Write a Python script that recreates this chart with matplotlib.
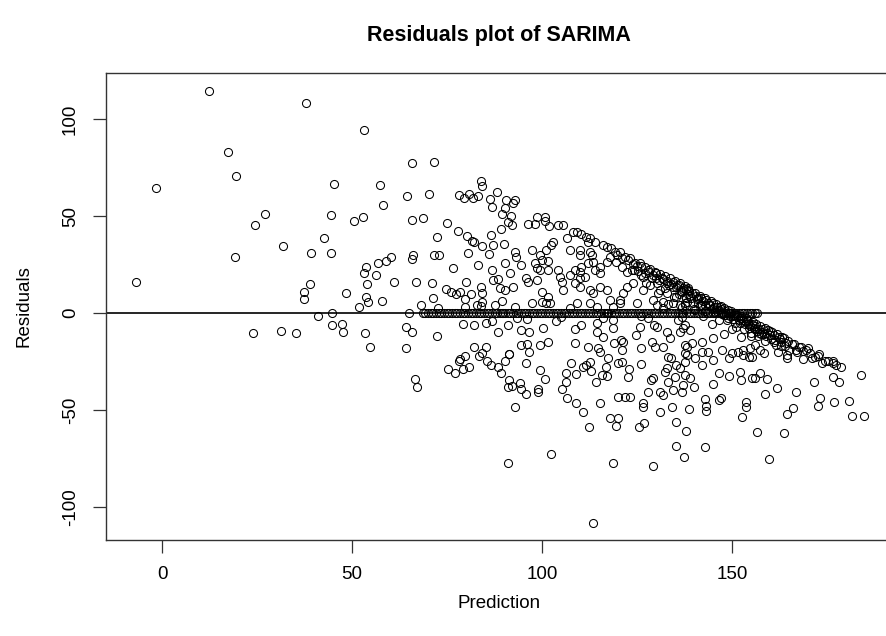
import matplotlib
matplotlib.use('Agg')
import matplotlib.pyplot as plt

plt.rcParams['font.family'] = ['Liberation Sans', 'DejaVu Sans']

# scattered residuals (prediction, residual)
pred = [12.5, 37.8, 17.5, 19.5, -1.7, 45.3, 27.0, 24.4, 44.5, 42.7, 31.9, 39.2, 44.5, 19.1, -6.9, 38.9,
        37.5, 37.5, 41.1, 44.8, 24.0, 31.2, 35.3, 44.8,
        53.2, 65.8, 71.7, 57.5, 64.5, 70.3, 58.2, 83.9, 84.2, 78.2, 80.7, 79.4, 83.2, 81.9, 86.2, 88.1,
        86.8, 90.5, 50.6, 52.9, 65.8, 68.8, 75.0, 72.3, 77.9, 80.3, 81.5, 82.2, 84.2, 86.5, 87.2, 89.3,
        89.5, 90.0, 90.3, 80.5, 86.1, 90.2, 53.6, 53.2, 56.9, 58.9, 60.4, 66.1, 65.7, 71.7, 72.8, 56.3,
        54.0, 61.1, 66.8, 71.1, 76.6, 83.2, 86.8, 79.9, 83.9, 87.0, 88.4, 88.9, 48.4, 53.6, 54.1, 57.9,
        51.8, 65.1, 71.4, 68.3, 74.7, 76.1, 77.5, 78.4, 79.7, 81.3, 84.3, 84.2, 87.6, 89.4, 90.3, 82.8,
        79.8, 72.7,
        47.5, 47.7, 53.3, 54.7, 64.2, 65.8, 64.1, 72.5, 66.5, 67.2, 79.3, 82.0, 85.2, 86.9, 88.5, 83.9,
        82.2, 85.2, 84.3, 83.5, 85.5, 86.6, 88.4, 89.1, 90.4, 91.2, 79.7, 78.4, 78.2, 80.9, 79.3, 75.3,
        77.0, 91.3, 91.0, 91.0,
        92.9, 92.5, 91.8, 91.1, 92.0, 96.4, 98.2, 98.6, 100.8, 100.8, 101.9, 104.1, 105.6, 108.2, 109.1,
        110.4, 111.6, 112.6, 112.2, 113.9, 106.5, 103.0, 102.5, 92.9, 93.3, 97.3, 99.5, 101.1, 99.9,
        101.7, 107.4, 110.0, 110.0, 112.6, 113.3, 116.1, 117.0, 118.3, 119.2, 120.5, 121.8, 123.2, 124.5,
        125.8, 127.1, 128.4, 129.7, 131.1, 132.4, 133.7, 135.0, 136.3, 137.6, 138.5,
        94.6, 98.2, 98.6, 101.7, 99.6, 91.6, 104.3, 104.7, 107.4, 108.7, 110.0, 110.4, 112.2, 113.5,
        115.3, 117.0, 117.9, 119.6, 121.0, 122.3, 123.6, 115.3, 111.3, 113.9, 95.9, 96.4, 98.6, 92.5,
        99.9, 101.7, 97.3, 99.9, 102.1, 105.2, 105.6, 108.7, 110.0, 110.0, 112.6, 113.5, 115.3, 117.0,
        117.9, 120.5, 121.3, 122.3, 124.0, 126.7, 127.5, 126.7, 128.9, 130.2, 131.1, 132.8, 132.8, 134.6,
        135.4, 136.8, 129.3, 131.9, 124.9, 118.8, 112.6, 109.1, 107.4, 92.9, 137.6, 138.0,
        91.1, 94.4, 96.7, 96.1, 96.7, 94.4, 91.4, 95.9, 92.1, 94.2, 94.4, 95.9, 93.0, 99.0, 99.0, 99.6,
        100.9, 99.6, 101.7, 103.6, 100.2, 105.4, 106.5, 106.3, 106.3, 107.6, 108.9, 108.9, 110.9, 108.7,
        108.7, 110.4, 110.7, 111.6, 112.6, 112.8, 112.2, 114.2, 112.5, 114.4, 114.6, 114.8, 115.4, 116.1,
        116.8, 115.7, 117.2, 117.4, 115.4, 117.9, 119.9, 119.6, 118.8, 118.9, 120.1, 121.0, 120.7, 121.4,
        121.0, 120.1, 121.8, 123.2, 122.7, 123.0, 118.8, 113.5, 102.3, 124.7, 125.8, 126.0, 126.2, 126.7,
        126.7, 125.6, 126.8, 129.3, 128.0, 128.6, 129.3, 128.9, 129.5, 129.7, 130.2, 131.1, 131.9, 131.2,
        131.9, 132.4, 132.8, 133.2, 134.1, 132.8, 133.7, 133.2, 134.6, 135.0, 135.4, 136.3, 136.8, 137.2,
        137.6, 137.6, 137.6, 137.6, 136.3, 137.0, 137.6, 134.2, 135.2, 135.2, 137.4, 138.0, 138.7, 138.9,
        130.2, 131.9, 136.3, 134.6, 116.1, 118.8, 114.4, 120.5, 101.2, 135.9, 136.8, 93.5, 96.0, 105.0,
        126.0, 128.0,
        138.9, 142.0, 138.1, 139.4, 142.0, 143.8, 145.1, 147.3, 145.1, 140.4, 138.1, 142.0, 146.5, 145.1,
        149.3, 152.1, 152.5, 155.2, 156.1, 157.5, 159.3, 161.8, 158.6, 149.3, 150.0, 151.7, 152.8, 154.6,
        155.2, 153.0, 154.7, 157.4, 158.5, 156.1, 162.2, 164.6, 164.6, 168.8, 171.0, 170.1, 173.0, 176.7,
        176.7, 178.6, 184.1, 176.7, 178.2, 171.7, 166.8, 173.2, 172.7, 176.9, 180.9, 181.6, 184.7, 166.1,
        164.6, 163.8, 156.5, 159.8, 152.6, 153.7, 153.7, 147.0, 146.7, 142.9, 143.2, 143.3, 143.0, 139.9]

resid = [114.6, 108.4, 83.2, 70.8, 64.4, 66.4, 50.9, 45.2, 50.4, 38.7, 34.7, 30.9, 30.9, 29.0, 16.0, 14.8,
         11.0, 7.1, -1.4, 0.2, -10.5, -9.1, -10.5, -6.2,
         94.2, 77.3, 78.0, 65.8, 60.1, 61.3, 55.5, 67.9, 65.3, 60.7, 61.3, 59.3, 60.5, 59.1, 58.9, 62.4,
         54.8, 58.2, 47.6, 49.6, 47.8, 49.0, 46.2, 39.3, 42.4, 39.9, 37.3, 36.4, 34.7, 40.0, 34.9, 43.1,
         51.0, 35.6, 54.0, 31.1, 30.4, 25.9, 23.9, 20.8, 25.9, 27.0, 29.0, 29.9, 27.7, 29.7, 29.7, 19.4,
         14.9, 16.0, 16.2, 15.6, 23.2, 24.6, 22.0, 16.2, 13.6, 17.0, 17.4, 12.9, 10.5, 8.4, 5.5, 6.0,
         2.9, 0.2, 7.7, 4.0, 12.2, 11.0, 9.8, 11.0, 7.1, 9.8, 10.2, 5.7, 4.0, 6.0, 11.9, 4.0,
         2.9, 2.4,
         -5.7, -9.8, -10.5, -17.5, -7.1, -9.8, -18.2, -11.7, -34.2, -38.3, -5.8, -6.4, -5.0, -4.0, -9.8, 3.6,
         -17.5, -17.5, -20.8, -22.2, -24.6, -26.8, -27.7, -31.1, -24.6, -21.1, -22.2, -23.5, -24.9, -28.0, -29.0, -29.0,
         -31.1, -34.5, -38.3, -77.5,
         58.2, 56.5, 50.0, 47.1, 45.4, 45.9, 45.9, 49.6, 49.6, 47.6, 44.8, 45.4, 45.4, 41.9, 41.9,
         40.7, 39.3, 38.5, 36.8, 36.8, 38.5, 36.8, 35.1, 31.6, 29.0, 32.5, 29.9, 32.5, 27.3,
         27.0, 32.5, 32.5, 29.9, 31.6, 29.9, 35.1, 34.2, 33.3, 31.6, 31.6, 29.0, 28.2, 25.9,
         25.6, 23.9, 22.5, 21.3, 20.1, 19.1, 17.9, 16.7, 15.3, 13.9, 12.7,
         24.7, 25.6, 23.0, 22.2, 22.2, 20.5, 22.2, 18.7, 19.6, 22.2, 21.3, 23.9, 25.6, 26.4,
         23.9, 26.4, 29.0, 26.4, 23.9, 21.3, 22.2, 20.5, 18.7, 22.2, 17.9, 16.2, 17.0, 13.6,
         11.0, 8.4, 5.0, 5.8, 5.0, 16.2, 11.9, 15.3, 17.9, 13.6, 11.9, 10.5, 13.6, 11.9,
         6.7, 6.7, 10.2, 13.6, 15.3, 18.7, 15.3, 11.9, 17.9, 15.3, 11.9, 15.3, 10.2, 13.6,
         8.4, 11.0, 6.7, 5.8, 5.0, 3.3, 5.0, 5.0, 2.4, 2.9, 5.0, 7.6,
         -6.2, -8.8, -9.8, -16.2, -19.9, -16.5, -21.3, -25.6, -37.6, -35.9, -39.3, -41.8, -48.3, -39.3, -40.6, -29.4,
         -34.2, -16.5, -14.8, -4.0, -7.9, -39.3, -44.0, -35.4, -30.8, -25.6, -31.4, -46.5, -50.9, -15.6,
         -8.4, -6.2, -27.7, -26.8, -25.1, -29.7, -17.4, -35.4, -58.6, -5.3, -9.6, -18.2, -19.9, -12.2,
         -27.7, -32.0, -32.5, -23.4, -46.5, -54.3, -54.3, -58.2, -7.9, -15.6, -25.9, -25.1, -13.9, -14.8,
         -19.1, -43.1, -43.5, -43.1, -32.8, -29.0, -77.2, -108.4, -72.8, -11.3, -7.1, -18.2, -26.3, -46.5,
         -48.2, -58.6, -56.9, -78.9, -40.6, -34.5, -33.7, -14.8, -6.2, -17.4, -7.1, -40.6, -42.3, -50.9,
         -17.4, -30.2, -28.5, -22.9, -23.4, -9.6, -13.1, -35.4, -39.7, -32.8, -26.8, -28.5, -40.6, -37.1,
         -32.0, -25.1, -20.8, -16.5, -9.6, -7.9, -6.2, -48.3, -56.0, -68.4, -74.1, -60.7, -49.6, -33.5,
         4.1, 2.4, 4.1, 5.0, -2.7, -3.6, 3.3, 5.0, 5.2, -3.6, -1.9, -2.5, -3.0, -2.0,
         -1.5, -2.5,
         -8.8, -14.8, -17.4, -15.6, -19.9, -19.9, -13.1, -19.1, -24.2, -23.4, -21.6, -26.8, -30.8, -36.6,
         -32.5, -30.2, -34.5, -33.7, -33.3, -30.8, -34.2, -38.8, -41.9, -23.4, -20.8, -19.9, -21.6, -22.9,
         -22.5, -19.1, -18.2, -19.1, -20.8, -16.5, -19.9, -21.6, -23.4, -23.9, -23.4, -18.2, -21.1, -24.6,
         -25.5, -27.7, -32.1, -32.8, -35.6, -35.4, -40.6, -43.6, -47.8, -45.7, -45.2, -52.9, -52.9, -48.8,
         -52.2, -61.7, -61.2, -75.4, -53.4, -48.6, -45.7, -44.0, -44.8, -44.5, -47.9, -50.4, -68.9, -38.3]

# crowded band along the upper edge (prediction + residual ~ 151)
edge_pred = [125.0, 126.2, 127.8, 128.5, 129.9, 130.6, 131.7, 132.3, 133.1, 134.0, 134.8, 135.6, 136.1,
             136.9, 137.2, 138.1, 138.8, 139.3, 139.9, 140.4, 140.9, 141.5, 141.9, 142.4, 142.8, 143.3,
             143.8, 144.2, 144.7, 145.1, 145.6, 146.0, 146.5, 146.9, 147.4, 147.8, 148.2, 148.7, 149.1,
             149.6, 150.0, 150.5, 150.9, 151.3, 151.8, 152.3, 152.7, 153.1, 153.6, 154.0, 154.5, 154.9,
             155.4, 155.8, 156.3, 156.8, 157.2, 157.7, 158.2, 158.8, 159.3, 159.9, 160.4, 161.0, 161.6,
             162.3, 162.9, 163.6, 164.3, 165.1, 165.9, 166.8, 167.7, 168.6, 169.4, 171.8, 174.5,
             136.5, 137.7, 138.4, 139.7, 140.2, 141.2, 142.1, 143.0, 144.0, 145.3, 146.2, 147.1, 148.0,
             149.4, 150.2, 151.0, 152.0, 153.4, 154.2, 155.1, 156.0, 157.0, 158.5, 160.1, 161.3, 163.0,
             138.4, 139.0, 139.6, 140.6, 141.0, 141.7, 142.3, 142.9, 143.6, 144.4, 145.0, 145.8, 146.6,
             147.2, 147.9, 148.5, 149.0, 149.8, 150.3, 150.8, 151.5, 152.1, 152.5, 153.0, 153.8, 154.3,
             154.8, 155.6, 156.2, 156.6, 157.4, 158.0, 158.6, 159.1, 159.6, 160.6, 161.2, 161.9, 162.6,
             163.3, 164.0, 164.8, 166.3, 167.2, 168.1, 170.6, 172.6, 173.6, 175.4, 177.4,
             119.8, 121.2, 122.6, 123.9, 124.2, 125.4, 126.0, 127.0, 128.2, 129.2, 130.0, 130.9, 131.9,
             132.9, 133.4, 134.4, 135.3, 136.0, 137.0, 137.9]
edge_resid = [24.0, 19.8, 22.2, 14.5, 18.1, 10.4, 18.3, 12.7, 4.9, 15.0, 8.2, 14.4, 9.9,
              3.1, 11.8, 5.9, 11.2, 7.7, 2.1, 10.1, 7.1, 3.5, 7.6, -1.4, 4.2, 6.7,
              0.2, 4.3, -5.7, 5.4, 0.4, 3.0, -3.5, 3.1, -0.4, -10.8, 0.8, -3.7, 1.4,
              -1.6, -8.0, -1.0, -4.9, -0.8, -3.8, -12.3, -2.7, -8.1, -4.6, -3.5, -7.5, -11.9,
              -5.4, -7.8, -5.8, -11.8, -8.2, -10.7, -8.2, -14.6, -10.3, -9.4, -13.4, -11.5, -16.6,
              -12.3, -14.9, -13.1, -15.3, -19.1, -15.9, -18.8, -17.7, -19.6, -18.9, -22.8, -24.5,
              11.5, 4.3, 9.6, 5.3, 1.5, 7.8, 3.9, 1.2, 4.0, 3.2, 0.8, 1.9, -1.0,
              0.1, -1.7, -7.0, -2.5, -5.4, -5.7, -10.1, -8.0, -10.5, -11.0, -11.1, -13.8, -17.0,
              12.0, 8.8, 10.5, 8.9, 5.2, 9.0, 6.1, 8.0, 5.0, 6.2, 2.1, 4.6, 1.4,
              3.6, 2.4, -0.8, -2.4, 0.8, -3.0, -0.2, -2.0, -5.0, -1.5, -3.4, -2.8, -4.3,
              -6.6, -4.6, -6.8, -9.4, -6.6, -9.6, -7.6, -12.0, -8.6, -10.0, -15.0, -11.0, -13.6,
              -12.4, -17.2, -14.2, -16.0, -20.0, -17.3, -20.6, -22.3, -26.0, -24.8, -27.0,
              30.0, 28.4, 27.4, 25.2, 22.0, 21.8, 24.2, 20.5, 21.0, 19.8, 20.6, 16.8, 17.5,
              16.5, 14.2, 15.9, 13.3, 14.5, 12.8, 12.3]

# predictions whose residual is exactly zero (the dense row on the zero line)
zero_pred = [68.6, 69.3, 70.1, 70.8, 71.4, 72.2, 72.9, 73.5, 74.3, 75.0, 75.6, 76.4, 77.1, 77.7, 78.5,
             79.2, 79.8, 80.6, 81.3, 81.9, 82.7, 83.4, 84.0, 84.8, 85.5, 86.1, 86.9, 87.6, 88.2, 89.0,
             89.4, 89.7, 90.4, 91.1, 91.7, 92.5, 93.2, 93.8, 94.6, 95.3, 95.9, 96.7, 97.4, 98.0, 98.8,
             99.5, 100.1, 100.9, 101.6, 102.2, 103.0, 103.7, 104.3, 105.1, 105.8, 106.4, 107.2, 107.9,
             108.5, 109.3, 110.0, 110.6, 111.4, 112.1, 112.7, 113.5, 114.2, 114.8, 115.6, 116.3, 116.8,
             117.1, 117.5, 118.2, 118.9, 119.6, 120.2, 121.0, 121.7, 122.3, 123.1, 123.8, 124.4, 125.2,
             125.9, 126.5, 127.3, 128.0, 128.6, 129.4, 130.1, 130.7, 131.5, 132.2, 132.8, 133.6, 134.3,
             134.9, 135.7, 136.4, 136.8, 137.2, 137.9, 138.6, 139.2, 140.0, 140.7, 141.3, 142.1, 142.8,
             143.4, 144.2, 144.9, 145.5, 146.3, 147.0, 147.6, 148.4, 149.1, 149.7, 150.5, 151.2, 151.8,
             152.6, 153.3, 153.9, 154.7, 155.4, 156.0, 156.6]
zero_resid = [0.0] * len(zero_pred)

x_ticks = [0, 50, 100, 150]
y_ticks = [-100, -50, 0, 50, 100]

fig = plt.figure(figsize=(8.86, 6.36), dpi=100)
ax = fig.add_axes([106 / 886, 96 / 636, 787 / 886, 467.3 / 636])

mk = dict(marker='o', linestyle='none', markersize=5.8, markerfacecolor='none',
          markeredgecolor='black', markeredgewidth=0.75)
ax.plot(pred, resid, **mk)
ax.plot(edge_pred, edge_resid, **mk)
ax.plot(zero_pred, zero_resid, **mk)
ax.axhline(0, color='black', linewidth=1.2)

ax.set_xlim(-14.74, 192.4)
ax.set_ylim(-117.0, 123.9)
ax.set_xticks(x_ticks)
ax.set_yticks(y_ticks)
ax.set_yticklabels([str(v) for v in y_ticks], rotation=90, va='center')
ax.tick_params(direction='out', length=9.4, width=0.9, labelsize=13.5, color='#333333')
ax.tick_params(axis='x', pad=9.5)
ax.tick_params(axis='y', pad=10)
for s in ax.spines.values():
    s.set_linewidth(1.0)
    s.set_color('#333333')

fig.text(499 / 886, 1 - 604 / 636, 'Prediction', ha='center', va='center', fontsize=13.5)
fig.text(24 / 886, 1 - 306 / 636, 'Residuals', ha='center', va='center', fontsize=13.5, rotation=90)
fig.text(499 / 886, 1 - 36 / 636, 'Residuals plot of SARIMA', ha='center', va='center',
         fontsize=15.5, fontweight='bold')

fig.savefig('out.png', dpi=100)
